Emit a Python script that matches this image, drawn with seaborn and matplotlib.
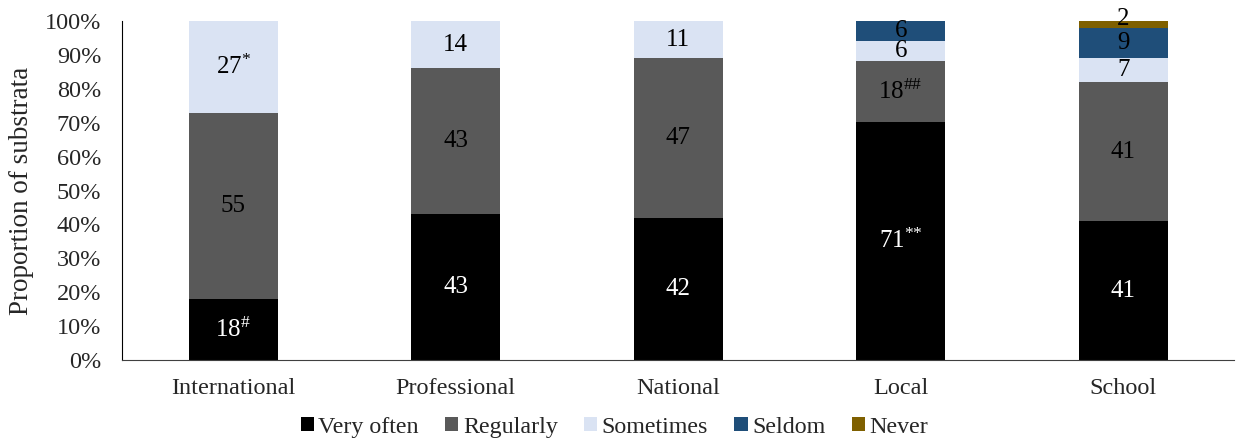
import numpy as np
import pandas as pd
import matplotlib
matplotlib.use("Agg")
from matplotlib import pyplot as plt
from matplotlib.patches import Patch
import seaborn as sns

categories = ["International", "Professional", "National", "Local", "School"]
levels = ["Very often", "Regularly", "Sometimes", "Seldom", "Never"]
colors = ["#000000", "#595959", "#DAE3F3", "#1F4E79", "#7F6000"]

very_often = [18, 43, 42, 71, 41]
regularly = [55, 43, 47, 18, 41]
sometimes = [27, 14, 11, 6, 7]
seldom = [0, 0, 0, 6, 9]
never = [0, 0, 0, 0, 2]

# superscript marks on some labels
marks = {("International", "Very often"): r"\#",
         ("International", "Sometimes"): "{*}",
         ("Local", "Very often"): "{*}{*}",
         ("Local", "Regularly"): r"\#\#"}

counts = pd.DataFrame([very_often, regularly, sometimes, seldom, never],
                      index=levels, columns=categories).T
share = counts.div(counts.sum(axis=1), axis=0) * 100
cum = share.cumsum(axis=1)

sns.set_style("white")
plt.rcParams["font.family"] = ["Liberation Serif", "DejaVu Serif"]
plt.rcParams["mathtext.fontset"] = "custom"
plt.rcParams["mathtext.rm"] = "Liberation Serif"
plt.rcParams["mathtext.it"] = "Liberation Serif"

fig = plt.figure(figsize=(12.36, 4.45), dpi=100)
ax = fig.add_axes([0.0987, 0.191, 0.9, 0.7618])

# draw stacks from the top level down so each bar covers the ones above it
for lev, col in reversed(list(zip(levels, colors))):
    sns.barplot(x=categories, y=cum[lev].values, color=col, saturation=1,
                width=0.4, ax=ax, linewidth=0)

for i, cat in enumerate(categories):
    base = 0
    for lev in levels:
        v = counts.loc[cat, lev]
        h = share.loc[cat, lev]
        if v > 0:
            txt = str(v)
            if (cat, lev) in marks:
                txt += r"$^{\mathrm{" + marks[(cat, lev)] + "}}$"
            tc = "white" if lev == "Very often" else "black"
            y = base + h / 2
            if lev == "Never":
                y = base + h + 0.5
            ax.text(i, y, txt, ha="center", va="center", color=tc, fontsize=18)
        base += h

ax.set_ylim(0, 100)
ax.set_xlim(-0.5, 4.5)
ax.set_yticks(np.arange(0, 101, 10))
ax.set_yticklabels([f"{t}%" for t in range(0, 101, 10)], fontsize=17.5)
ax.tick_params(axis="x", labelsize=17.5, length=0, pad=13)
ax.tick_params(axis="y", length=0, pad=15)
ax.set_ylabel("Proportion of substrata", fontsize=19.5, labelpad=8)
for s in ["top", "right"]:
    ax.spines[s].set_visible(False)
ax.spines["left"].set_color("black")
ax.spines["bottom"].set_color("#404040")

handles = [Patch(facecolor=c, edgecolor="none", label=l) for l, c in zip(levels, colors)]
fig.legend(handles=handles, loc="center", bbox_to_anchor=(0.497, 0.04), ncol=5,
           frameon=False, fontsize=17.3, handlelength=0.55, handleheight=0.55,
           handletextpad=0.18, columnspacing=1.1)

plt.savefig("out.png", dpi=100)
